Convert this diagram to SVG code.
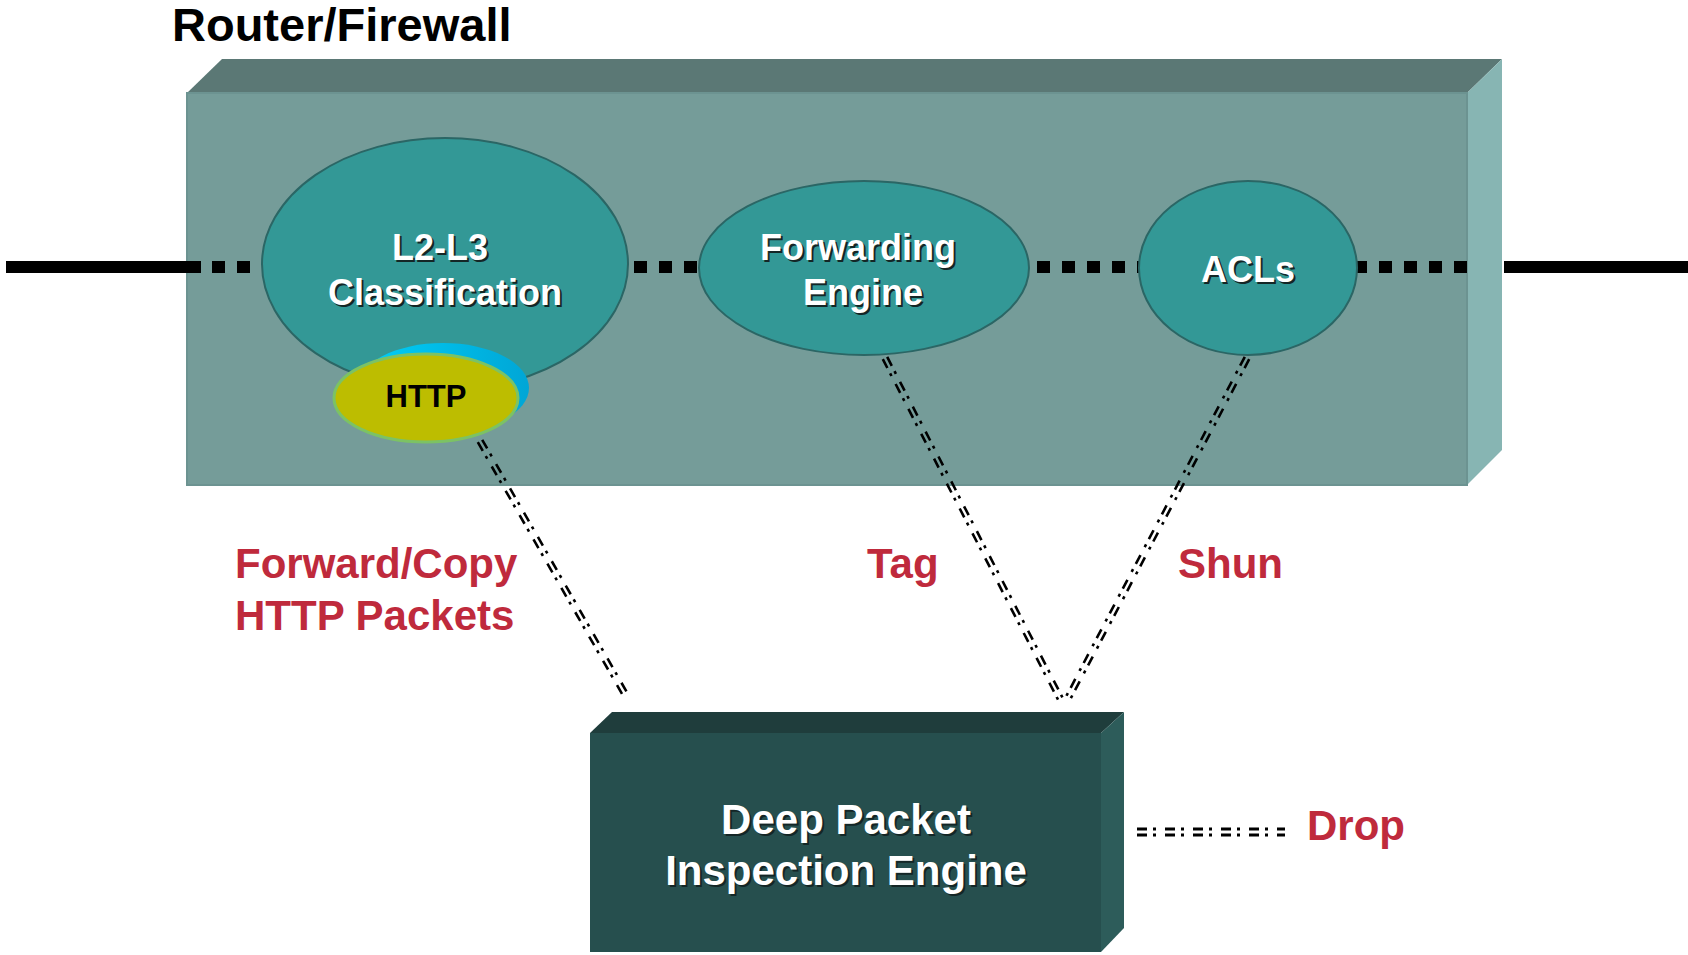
<svg xmlns="http://www.w3.org/2000/svg" width="1688" height="955" viewBox="0 0 1688 955">
<defs>
<style>
text{font-family:"Liberation Sans",Arial,sans-serif;font-weight:bold}
.w{fill:#ffffff}
.sh{fill:#142626}
.red{fill:#bf2a3c;font-size:42px}
.ell{fill:#339896;stroke:#2b6665;stroke-width:2}
.bus{stroke:#000;stroke-width:12;fill:none}
.dash{stroke:#000;stroke-width:12;stroke-dasharray:13 12;fill:none}
.cl{stroke:#000;stroke-width:2.6;stroke-dasharray:10 6 3 9;fill:none}
.cd{stroke:#000;stroke-width:3.2;stroke-dasharray:10 6 3 9;fill:none}
</style>
<linearGradient id="blue" x1="0" y1="0" x2="1" y2="0">
<stop offset="0" stop-color="#00d0f8"/>
<stop offset="1" stop-color="#00a6d6"/>
</linearGradient>
</defs>
<rect width="1688" height="955" fill="#ffffff"/>

<g id="title">
<text x="172" y="41" font-size="47" fill="#000">Router/Firewall</text>
</g>

<g id="router-box">
<polygon points="187,93 222,59 1502,59 1467,93" fill="#5b7875"/>
<polygon points="1467,93 1502,59 1502,450 1467,485" fill="#87b5b3"/>
<rect x="187" y="93" width="1280" height="392" fill="#759c99" stroke="#6c9391" stroke-width="2"/>
</g>

<g id="bus-line">
<line class="bus" x1="6" y1="267" x2="201" y2="267"/>
<line class="dash" x1="212" y1="267" x2="262" y2="267"/>
<line class="dash" x1="634" y1="267" x2="700" y2="267"/>
<line class="dash" x1="1037" y1="267" x2="1139" y2="267"/>
<line class="dash" x1="1354" y1="267" x2="1467" y2="267"/>
<line class="bus" x1="1504" y1="267" x2="1688" y2="267"/>
</g>

<g id="l2l3">
<ellipse class="ell" cx="445" cy="264" rx="183" ry="126"/>
<text class="sh" x="442" y="262" font-size="36" text-anchor="middle">L2-L3</text>
<text class="w" x="440" y="260" font-size="36" text-anchor="middle">L2-L3</text>
<text class="sh" x="447" y="307" font-size="36" text-anchor="middle">Classification</text>
<text class="w" x="445" y="305" font-size="36" text-anchor="middle">Classification</text>
</g>

<g id="http">
<ellipse cx="443" cy="388" rx="86" ry="45" fill="url(#blue)"/>
<ellipse cx="426" cy="398" rx="92" ry="44" fill="#bdbd00" stroke="#7cc264" stroke-width="3"/>
<text x="426" y="407" font-size="31" text-anchor="middle" fill="#000">HTTP</text>
</g>

<g id="forwarding">
<ellipse class="ell" cx="864" cy="268" rx="165" ry="87"/>
<text class="sh" x="860" y="262" font-size="36" text-anchor="middle">Forwarding</text>
<text class="w" x="858" y="260" font-size="36" text-anchor="middle">Forwarding</text>
<text class="sh" x="865" y="307" font-size="36" text-anchor="middle">Engine</text>
<text class="w" x="863" y="305" font-size="36" text-anchor="middle">Engine</text>
</g>

<g id="acls">
<ellipse class="ell" cx="1248" cy="268" rx="109" ry="87"/>
<text class="sh" x="1250" y="284" font-size="36" text-anchor="middle">ACLs</text>
<text class="w" x="1248" y="282" font-size="36" text-anchor="middle">ACLs</text>
</g>

<g id="dpi">
<polygon points="590,733 612,712 1124,712 1101,733" fill="#1f3d3c"/>
<polygon points="1101,733 1124,712 1124,928 1101,952" fill="#2d5c5a"/>
<rect x="590" y="733" width="511" height="219" fill="#264f4e"/>
<text class="sh" x="848" y="836" font-size="42" text-anchor="middle">Deep Packet</text>
<text class="w" x="846" y="834" font-size="42" text-anchor="middle">Deep Packet</text>
<text class="sh" x="848" y="887" font-size="42" text-anchor="middle">Inspection Engine</text>
<text class="w" x="846" y="885" font-size="42" text-anchor="middle">Inspection Engine</text>
</g>

<g id="connectors">
<line class="cl" x1="482.2" y1="439.8" x2="627.2" y2="692.8"/>
<line class="cl" x1="477.8" y1="442.2" x2="622.8" y2="695.2"/>
<line class="cl" x1="887.2" y1="356.9" x2="1064.2" y2="700.9"/>
<line class="cl" x1="882.8" y1="359.1" x2="1059.8" y2="703.1"/>
<line class="cl" x1="1249.2" y1="359.2" x2="1068.2" y2="703.2"/>
<line class="cl" x1="1244.8" y1="356.8" x2="1063.8" y2="700.8"/>
<line class="cd" x1="1137" y1="829" x2="1285" y2="829"/>
<line class="cd" x1="1137" y1="835" x2="1285" y2="835"/>
</g>

<g id="labels">
<text class="red" x="235" y="578">Forward/Copy</text>
<text class="red" x="235" y="630">HTTP Packets</text>
<text class="red" x="867" y="578">Tag</text>
<text class="red" x="1178" y="578">Shun</text>
<text class="red" x="1307" y="840" font-size="41">Drop</text>
</g>
</svg>
